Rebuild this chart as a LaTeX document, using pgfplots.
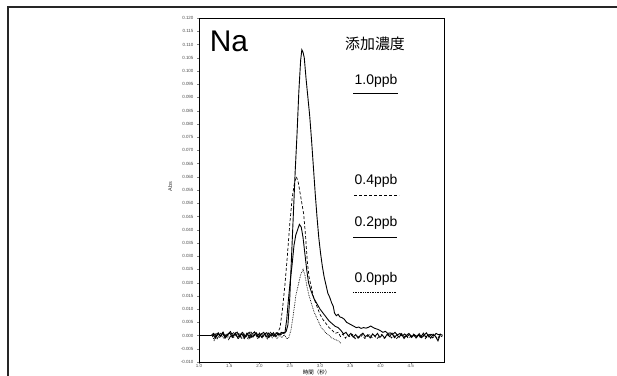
\documentclass[border=0pt]{standalone}
\usepackage{fontspec}
\setmainfont{Liberation Sans}
\newfontfamily\cjk{Noto Sans CJK JP}
\usepackage{pgfplots}
\pgfplotsset{compat=1.18}
\begin{document}
\begin{tikzpicture}
\useasboundingbox (0,0) rectangle (617bp,376bp);
\draw[line width=1.4bp, black!85] (8bp,0) -- (8bp,369bp) -- (617bp,369bp);
\begin{axis}[
  at={(199bp,14bp)}, anchor=south west, scale only axis,
  width=245bp, height=344bp,
  xmin=1.0, xmax=5.05, ymin=-0.010, ymax=0.120,
  axis line style={line width=0.9bp},
  tick align=outside, major tick length=2bp, minor tick length=1.2bp,
  xtick={1.0,1.5,2.0,2.5,3.0,3.5,4.0,4.5}, minor x tick num=4,
  ytick={-0.010,-0.005,0,0.005,0.010,0.015,0.020,0.025,0.030,0.035,0.040,0.045,0.050,0.055,0.060,0.065,0.070,0.075,0.080,0.085,0.090,0.095,0.100,0.105,0.110,0.115,0.120},
  xtick pos=bottom, ytick pos=left,
  scaled y ticks=false,
  /pgf/number format/assume math mode=true,
  xticklabel style={font=\fontsize{4.5}{5}\selectfont, text=black!70, inner sep=0.6bp, /pgf/number format/.cd, fixed, fixed zerofill, precision=1},
  yticklabel style={font=\fontsize{4.5}{5}\selectfont, text=black!70, /pgf/number format/.cd, fixed, fixed zerofill, precision=3},
  xlabel={\cjk 時間（秒）},
  xlabel style={font=\fontsize{5.5}{6}\selectfont, at={(axis description cs:0.48,0)}, anchor=center, yshift=-10.5bp},
  ylabel={Abs},
  ylabel style={font=\fontsize{5.5}{6}\selectfont, text=black!80, at={(axis description cs:-0.118,0.51)}, anchor=center},
  clip=true,
]
% 1.0 ppb
\addplot[black, line width=0.9bp] coordinates {
(1.00,0) (1.20,0) (1.24,0.0008) (1.28,-0.0006) (1.32,0.0010) (1.36,-0.0004) (1.40,0.0012) (1.44,-0.0008) (1.48,0.0006) (1.52,0.0015) (1.56,-0.0002) (1.60,0.0010) (1.64,-0.0009) (1.68,0.0004) (1.72,0.0012) (1.76,-0.0005) (1.80,0.0008) (1.84,-0.0010) (1.88,0.0006) (1.92,0.0014) (1.96,-0.0004) (2.00,0.0009) (2.04,-0.0007) (2.08,0.0005) (2.12,0.0011) (2.16,-0.0006) (2.20,0.0008) (2.24,-0.0003) (2.28,0.0010) (2.32,0.0002) (2.36,0.0012) (2.40,0.0008) (2.44,0.0015)
(2.47,0.004) (2.50,0.014) (2.53,0.030) (2.56,0.046) (2.59,0.062) (2.62,0.076) (2.65,0.092) (2.68,0.104) (2.70,0.108) (2.72,0.107) (2.74,0.105) (2.77,0.097) (2.80,0.090) (2.83,0.083) (2.86,0.074) (2.89,0.064) (2.92,0.054) (2.95,0.045) (2.98,0.037) (3.01,0.031) (3.04,0.026) (3.07,0.022) (3.10,0.019) (3.13,0.016) (3.16,0.0145) (3.19,0.0125) (3.22,0.011) (3.24,0.0085) (3.27,0.0075) (3.30,0.008) (3.33,0.007) (3.36,0.0068) (3.40,0.0062) (3.44,0.005) (3.48,0.0045) (3.52,0.0040) (3.56,0.0035) (3.60,0.0030) (3.64,0.0032) (3.68,0.0027) (3.72,0.0030) (3.76,0.0028) (3.80,0.0031) (3.84,0.0036) (3.88,0.0030) (3.92,0.0026) (3.96,0.0023) (4.00,0.0018) (4.04,0.0012) (4.08,0.0016) (4.12,0.0008) (4.16,0.0010) (4.20,0.0004) (4.24,0.0012) (4.28,0.0002) (4.32,0.0008) (4.36,-0.0002) (4.40,0.0006) (4.44,-0.0004) (4.48,0.0005) (4.52,-0.0006) (4.56,0.0003) (4.60,-0.0003) (4.64,0.0007) (4.68,-0.0008) (4.72,0.0002) (4.76,0.0010) (4.80,-0.0005) (4.84,0.0004) (4.88,-0.0002) (4.92,0.0008) (4.96,0.0003) (5.00,0.0006)
};
% 0.4 ppb
\addplot[black, line width=0.7bp, dash pattern=on 3bp off 2bp] coordinates {
(1.22,-0.0005) (1.26,0.0010) (1.30,-0.0012) (1.34,0.0004) (1.38,0.0013) (1.42,-0.0006) (1.46,0.0009) (1.50,-0.0011) (1.54,0.0005) (1.58,0.0012) (1.62,-0.0004) (1.66,0.0008) (1.70,-0.0010) (1.74,0.0003) (1.78,0.0011) (1.82,-0.0007) (1.86,0.0013) (1.90,-0.0003) (1.94,0.0006) (1.98,-0.0009) (2.02,0.0010) (2.06,-0.0002) (2.10,0.0007) (2.14,-0.0008) (2.18,0.0012) (2.22,0.0000) (2.26,0.0009) (2.30,0.0010)
(2.34,0.003) (2.38,0.010) (2.42,0.019) (2.46,0.030) (2.50,0.042) (2.54,0.052) (2.58,0.058) (2.61,0.060) (2.64,0.058) (2.67,0.054) (2.70,0.050) (2.73,0.046) (2.76,0.038) (2.79,0.028) (2.82,0.022) (2.86,0.018) (2.90,0.014) (2.95,0.011) (3.00,0.008) (3.05,0.006) (3.10,0.0045) (3.15,0.003) (3.20,0.002) (3.25,0.0008)
(3.30,0.0012) (3.34,-0.0004) (3.38,0.0006) (3.42,-0.0010) (3.46,0.0002) (3.50,-0.0006) (3.54,0.0004) (3.58,-0.0012) (3.62,-0.0002) (3.66,-0.0009) (3.70,0.0003) (3.74,-0.0011) (3.78,-0.0004) (3.82,0.0005) (3.86,-0.0008) (3.90,0.0000) (3.94,-0.0012) (3.98,-0.0003) (4.02,0.0004) (4.06,-0.0010) (4.10,-0.0002) (4.14,0.0006) (4.18,-0.0009) (4.22,0.0001) (4.26,-0.0013) (4.30,-0.0004) (4.34,0.0005) (4.38,-0.0008) (4.42,0.0002) (4.46,-0.0011) (4.50,-0.0003) (4.54,0.0006) (4.58,-0.0010) (4.62,0.0000) (4.66,-0.0007) (4.70,0.0004) (4.74,-0.0012) (4.78,-0.0002) (4.82,0.0005) (4.86,-0.0009) (4.90,-0.0001) (4.94,-0.0014) (4.98,0.0002) (5.02,-0.0005)
};
% 0.2 ppb
\addplot[black, line width=0.9bp] coordinates {
(1.23,0.0004) (1.27,-0.0010) (1.31,0.0008) (1.35,-0.0003) (1.39,0.0011) (1.43,-0.0009) (1.47,0.0002) (1.51,0.0010) (1.55,-0.0007) (1.59,0.0005) (1.63,0.0013) (1.67,-0.0004) (1.71,0.0007) (1.75,-0.0011) (1.79,0.0004) (1.83,0.0012) (1.87,-0.0006) (1.91,0.0003) (1.95,0.0010) (1.99,-0.0008) (2.03,0.0006) (2.07,0.0012) (2.11,-0.0005) (2.15,0.0009) (2.19,-0.0002) (2.23,0.0011) (2.27,-0.0004) (2.31,0.0008) (2.35,0.0003) (2.39,0.0012) (2.42,0.0010)
(2.45,0.006) (2.48,0.014) (2.51,0.021) (2.54,0.027) (2.57,0.034) (2.60,0.038) (2.63,0.040) (2.66,0.042) (2.69,0.041) (2.72,0.037) (2.75,0.031) (2.78,0.025) (2.81,0.020) (2.85,0.017) (2.90,0.014) (2.95,0.012) (3.00,0.010) (3.05,0.0085) (3.10,0.007) (3.15,0.0055) (3.20,0.0045) (3.25,0.0035) (3.30,0.0030) (3.35,0.0018)
(3.39,0.0006) (3.43,0.0012) (3.47,-0.0002) (3.51,0.0008) (3.55,-0.0006) (3.59,0.0004) (3.63,-0.0010) (3.67,0.0002) (3.71,0.0009) (3.75,-0.0005) (3.79,0.0003) (3.83,-0.0009) (3.87,0.0006) (3.91,-0.0003) (3.95,0.0008) (3.99,-0.0007) (4.03,0.0002) (4.07,-0.0010) (4.11,0.0005) (4.15,-0.0004) (4.19,0.0009) (4.23,-0.0008) (4.27,0.0003) (4.31,-0.0006) (4.35,0.0007) (4.39,-0.0011) (4.43,0.0001) (4.47,0.0008) (4.51,-0.0007) (4.55,0.0004) (4.59,-0.0009) (4.63,0.0002) (4.67,-0.0004) (4.71,0.0009) (4.75,-0.0006) (4.79,0.0003) (4.83,-0.0010) (4.87,0.0005) (4.91,-0.0003) (4.95,-0.0020) (4.99,0.0004) (5.03,0.0001)
};
% 0.0 ppb
\addplot[black, line width=0.7bp, densely dotted] coordinates {
(1.22,0.0002) (1.25,-0.0018) (1.29,0.0006) (1.33,-0.0008) (1.37,0.0003) (1.41,-0.0012) (1.45,0.0005) (1.49,-0.0015) (1.53,0.0002) (1.57,-0.0009) (1.61,0.0007) (1.65,-0.0013) (1.69,-0.0001) (1.73,-0.0010) (1.77,0.0004) (1.81,-0.0014) (1.85,0.0001) (1.89,-0.0008) (1.93,0.0006) (1.97,-0.0012) (2.01,0.0000) (2.05,-0.0010) (2.09,0.0005) (2.13,-0.0014) (2.17,0.0002) (2.21,-0.0009) (2.25,0.0004) (2.29,-0.0011) (2.33,0.0001) (2.37,-0.0008) (2.41,0.0003) (2.45,-0.0012) (2.48,-0.0010)
(2.52,0.002) (2.56,0.008) (2.60,0.015) (2.64,0.019) (2.68,0.023) (2.72,0.025) (2.75,0.023) (2.78,0.019) (2.82,0.015) (2.86,0.012) (2.90,0.009) (2.94,0.007) (2.98,0.005) (3.02,0.003) (3.06,0.002) (3.10,0.001) (3.15,0.000) (3.20,-0.001) (3.25,-0.0015) (3.30,-0.002) (3.35,-0.003)
};
\end{axis}
\node[anchor=base] at (229bp,324bp) {\fontsize{30}{30}\selectfont Na};
\node at (375bp,332.5bp) {\cjk\fontsize{15}{15}\selectfont 添加濃度};
\node[anchor=base] at (376bp,291bp) {\fontsize{14}{14}\selectfont 1.0ppb};
\draw[black, line width=0.9bp] (353bp,283bp) -- (398bp,283bp);
\node[anchor=base] at (376bp,191bp) {\fontsize{14}{14}\selectfont 0.4ppb};
\draw[black, line width=0.7bp, dash pattern=on 3bp off 2bp] (354bp,181bp) -- (399bp,181bp);
\node[anchor=base] at (376bp,149bp) {\fontsize{14}{14}\selectfont 0.2ppb};
\draw[black, line width=0.9bp] (353bp,139bp) -- (397bp,139bp);
\node[anchor=base] at (376bp,93bp) {\fontsize{14}{14}\selectfont 0.0ppb};
\draw[black, line width=0.7bp, densely dotted] (353bp,84bp) -- (397bp,84bp);
\end{tikzpicture}
\end{document}
